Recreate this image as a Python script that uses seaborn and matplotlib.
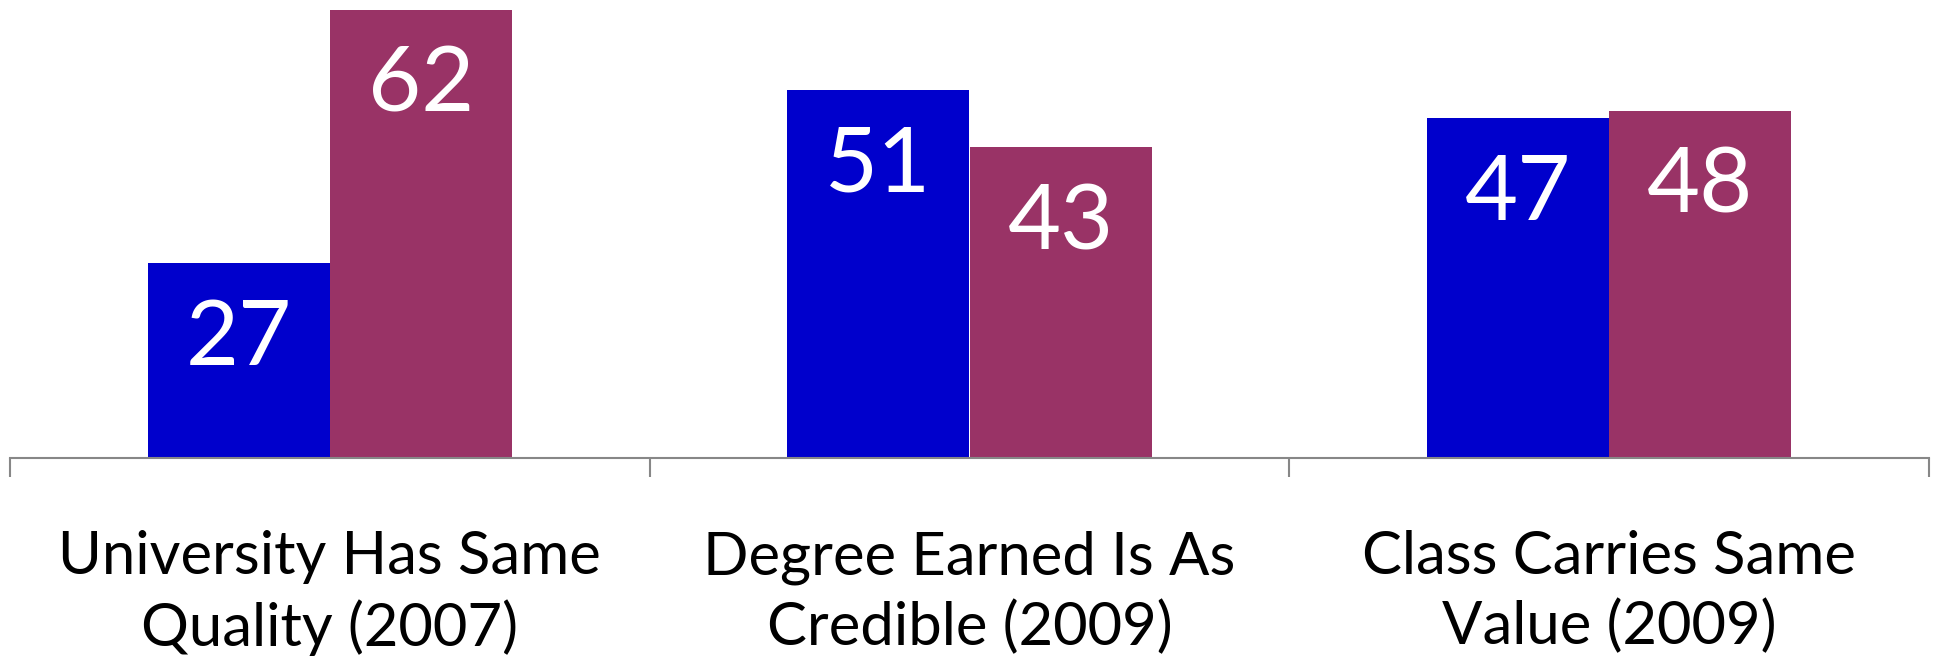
import matplotlib
matplotlib.use("Agg")
import matplotlib.pyplot as plt
import seaborn as sns
import pandas as pd

sns.set_theme(style="white")
plt.rcParams['font.family'] = ['Lato', 'DejaVu Sans']

# dados
categorias = ["University Has Same\nQuality (2007)",
              "Degree Earned Is As\nCredible (2009)",
              "Class Carries Same\nValue (2009)"]
series = ["A", "B"]
valores_a = [27, 51, 47]
valores_b = [62, 43, 48]
cores = ["#0000CC", "#993366"]

df = pd.DataFrame({
    "categoria": categorias * 2,
    "serie": [series[0]] * 3 + [series[1]] * 3,
    "valor": valores_a + valores_b,
})

fig = plt.figure(figsize=(19.39, 6.62), dpi=100)
ax = fig.add_axes([10 / 1939, 1 - 458 / 662, 1919 / 1939, 458 / 662])

sns.barplot(data=df, x="categoria", y="valor", hue="serie", palette=cores,
            width=0.57, saturation=1, legend=False, ax=ax, linewidth=0)

ax.set_xlim(-0.5, 2.5)
ax.set_ylim(0, 63.4)
ax.set_xlabel("")
ax.set_ylabel("")
ax.set_yticks([])

for s in ["top", "left", "right"]:
    ax.spines[s].set_visible(False)
ax.spines["bottom"].set_color("#878787")
ax.spines["bottom"].set_linewidth(1.5)

# ticks nas fronteiras, rotulos no meio
ax.set_xticks([-0.5, 0.5, 1.5, 2.5])
ax.set_xticklabels([])
ax.set_xticks([0, 1, 2], minor=True)
ax.set_xticklabels(categorias, minor=True, fontsize=43, linespacing=1.32,
                   color="black")
ax.tick_params(axis="x", which="major", direction="out", length=13.5,
               width=1.5, color="#878787", bottom=True)
ax.tick_params(axis="x", which="minor", length=0, pad=52)

# valores dentro das barras
for cont, vals in zip(ax.containers, [valores_a, valores_b]):
    for barra, v in zip(cont, vals):
        ax.annotate(str(v), xy=(barra.get_x() + barra.get_width() / 2, barra.get_height()),
                    xytext=(0, -25), textcoords="offset points",
                    ha="center", va="top", color="white", fontsize=66)

fig.savefig("out.png", dpi=100)
